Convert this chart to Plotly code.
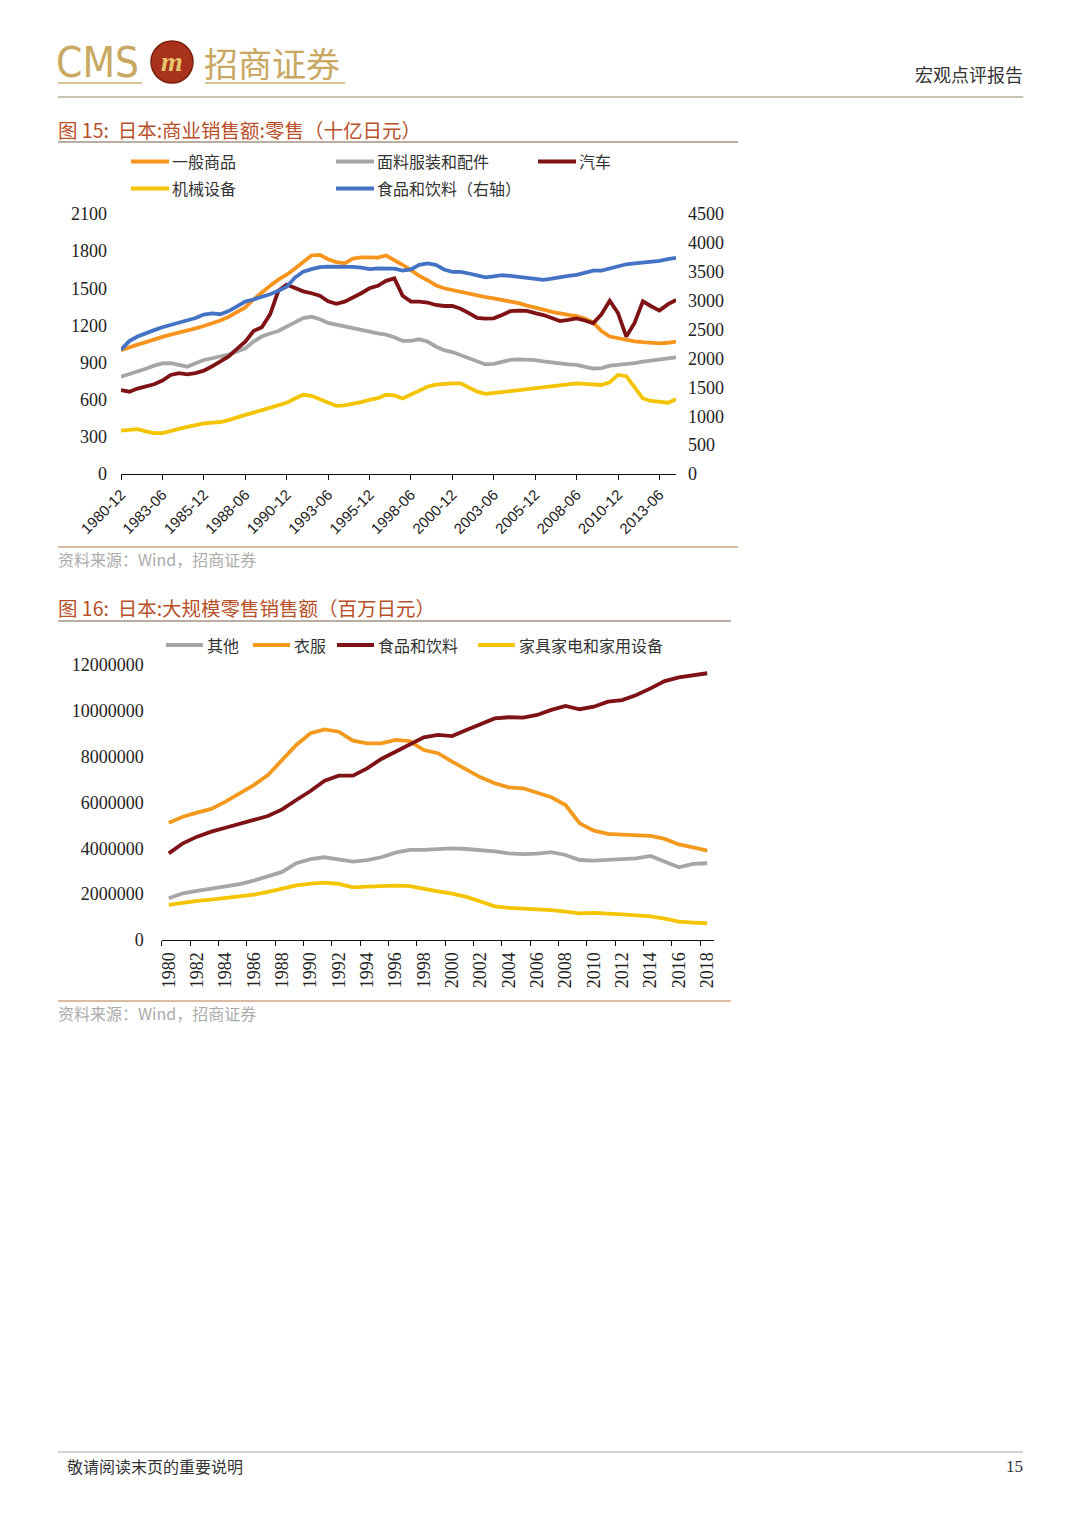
import plotly.graph_objects as go

# page is 1080x1527; the html body keeps an 8px margin, so the figure is 8px smaller on each side
PAGE_OFF = 8
W, H = 1080 - 2 * PAGE_OFF, 1527 - 2 * PAGE_OFF


def px(x):
    return (x - PAGE_OFF) / W


def py(y):
    return 1 - (y - PAGE_OFF) / H


# ---------------- Chart 15 data (semi-annual reads, 十亿日元) ----------------
dates15 = []
_y, _m = 1980, 12
for _k in range(68):
    dates15.append(f"{_y}-{_m:02d}")
    _m += 6
    if _m > 12:
        _m -= 12
        _y += 1

general_goods = [1000, 1025, 1045, 1065, 1088, 1108, 1125, 1140, 1158, 1176,
                 1195, 1215, 1240, 1270, 1305, 1345, 1410, 1470, 1520, 1570,
                 1610, 1660, 1715, 1765, 1770, 1735, 1712, 1702, 1740, 1750,
                 1750, 1748, 1765, 1730, 1690, 1647, 1600, 1565, 1525, 1500,
                 1486, 1470, 1452, 1440, 1428, 1419, 1408, 1395, 1380, 1360,
                 1346, 1328, 1310, 1295, 1285, 1275, 1255, 1225, 1155, 1110,
                 1096, 1082, 1072, 1065, 1058, 1055, 1060, 1070]
textiles = [786, 805, 826, 850, 875, 894, 895, 880, 867, 895,
            921, 935, 948, 965, 990, 1015, 1070, 1110, 1135, 1155,
            1190, 1225, 1260, 1270, 1250, 1220, 1205, 1195, 1180, 1165,
            1150, 1135, 1125, 1105, 1075, 1075, 1088, 1070, 1030, 1000,
            985, 960, 930, 905, 885, 890, 905, 922, 926, 926,
            920, 910, 900, 890, 885, 882, 870, 852, 855, 875,
            882, 886, 895, 907, 915, 922, 935, 942]
autos = [678, 665, 690, 710, 725, 755, 800, 815, 805, 815,
         835, 870, 907, 950, 1010, 1069, 1155, 1185, 1290, 1480,
         1530, 1505, 1475, 1460, 1440, 1395, 1375, 1392, 1425, 1460,
         1500, 1520, 1560, 1580, 1440, 1392, 1392, 1385, 1365, 1357,
         1357, 1335, 1300, 1260, 1255, 1257, 1285, 1315, 1320, 1318,
         1300, 1284, 1260, 1235, 1245, 1257, 1240, 1218, 1290, 1400,
         1300, 1110, 1220, 1395, 1355, 1320, 1370, 1405]
machinery = [350, 355, 362, 345, 330, 330, 350, 365, 380, 395,
             408, 415, 420, 435, 460, 478, 495, 515, 535, 555,
             575, 610, 640, 632, 605, 575, 550, 555, 565, 580,
             598, 612, 640, 635, 610, 640, 670, 705, 722, 728,
             732, 732, 700, 665, 648, 652, 662, 670, 678, 684,
             695, 705, 712, 718, 725, 732, 728, 722, 719, 740,
             800, 790, 700, 610, 590, 582, 576, 603]
food_bev = [2150, 2300, 2380, 2440, 2490, 2540, 2580, 2610, 2650, 2700,
            2760, 2780, 2765, 2820, 2900, 2985, 3020, 3060, 3110, 3170,
            3240, 3400, 3500, 3545, 3580, 3590, 3590, 3590, 3585, 3570,
            3545, 3560, 3560, 3555, 3520, 3540, 3620, 3646, 3620, 3540,
            3500, 3500, 3470, 3430, 3405, 3420, 3440, 3430, 3410, 3385,
            3365, 3360, 3380, 3410, 3430, 3445, 3490, 3520, 3520, 3560,
            3600, 3630, 3645, 3658, 3670, 3690, 3720, 3740]

names15 = ["一般商品", "面料服装和配件", "汽车", "机械设备", "食品和饮料（右轴）"]
colors15 = ["#F7941D", "#A6A6A6", "#7E1215", "#F5C400", "#4472C4"]
ticks15 = dates15[0::5]
yticks15_left = [0, 300, 600, 900, 1200, 1500, 1800, 2100]
yticks15_right = [0, 500, 1000, 1500, 2000, 2500, 3000, 3500, 4000, 4500]

# ---------------- Chart 16 data (annual, 百万日元) ----------------
years16 = list(range(1980, 2019))
other = [1820000, 2040000, 2140000, 2230000, 2330000, 2440000, 2590000, 2790000, 2970000, 3350000,
         3530000, 3610000, 3530000, 3420000, 3490000, 3610000, 3810000, 3930000, 3930000, 3960000,
         4000000, 3970000, 3930000, 3870000, 3780000, 3750000, 3770000, 3830000, 3710000, 3490000,
         3460000, 3480000, 3510000, 3560000, 3670000, 3420000, 3170000, 3320000, 3350000]
clothing = [5120000, 5380000, 5560000, 5720000, 6040000, 6400000, 6760000, 7200000, 7850000, 8510000,
            9020000, 9190000, 9090000, 8700000, 8580000, 8580000, 8730000, 8680000, 8290000, 8150000,
            7780000, 7420000, 7100000, 6840000, 6660000, 6620000, 6430000, 6230000, 5890000, 5090000,
            4770000, 4630000, 4600000, 4550000, 4540000, 4410000, 4170000, 4040000, 3900000]
food16 = [3780000, 4220000, 4510000, 4730000, 4900000, 5050000, 5240000, 5410000, 5700000, 6110000,
          6500000, 6950000, 7170000, 7170000, 7490000, 7900000, 8220000, 8550000, 8840000, 8950000,
          8900000, 9160000, 9430000, 9670000, 9720000, 9700000, 9820000, 10040000, 10210000, 10070000,
          10180000, 10400000, 10470000, 10690000, 10980000, 11300000, 11460000, 11530000, 11640000]
furniture = [1530000, 1630000, 1710000, 1760000, 1820000, 1890000, 1980000, 2100000, 2250000, 2380000,
             2460000, 2500000, 2450000, 2300000, 2330000, 2360000, 2370000, 2350000, 2220000, 2120000,
             2020000, 1880000, 1680000, 1470000, 1400000, 1370000, 1350000, 1300000, 1240000, 1160000,
             1180000, 1170000, 1120000, 1070000, 1030000, 930000, 800000, 760000, 730000]

names16 = ["其他", "衣服", "食品和饮料", "家具家电和家用设备"]
colors16 = ["#A6A6A6", "#F39A1E", "#7E1215", "#F5C400"]
yticks16 = [0, 2000000, 4000000, 6000000, 8000000, 10000000, 12000000]

CJK = "Noto Sans CJK SC"
SERIF = "Liberation Serif"
SANS = "Liberation Sans"

fig = go.Figure()

series15 = [general_goods, textiles, autos, machinery, food_bev]
for i, (nm, vals, col) in enumerate(zip(names15, series15, colors15)):
    fig.add_trace(go.Scatter(
        x=dates15, y=vals, name=nm, mode="lines",
        line=dict(color=col, width=3.8),
        xaxis="x", yaxis="y2" if i == 4 else "y", showlegend=False))

series16 = [other, clothing, food16, furniture]
for nm, vals, col in zip(names16, series16, colors16):
    fig.add_trace(go.Scatter(
        x=years16, y=vals, name=nm, mode="lines",
        line=dict(color=col, width=3.8),
        xaxis="x2", yaxis="y3", showlegend=False))

tickfont_serif = dict(family=SERIF, size=18, color="#222222")

fig.update_layout(
    template="none",
    width=W, height=H, margin=dict(l=0, r=0, t=0, b=0, pad=0, autoexpand=False),
    autosize=False,
    paper_bgcolor="white", plot_bgcolor="white",
    showlegend=False,
    xaxis=dict(domain=[px(121), px(676)], type="category", range=[0, 67], anchor="y",
               automargin=False,
               showline=True, linecolor="#111111", linewidth=1.3,
               ticks="outside", ticklen=5, tickcolor="#111111", tickwidth=1.2,
               tickmode="array", tickvals=ticks15, ticktext=ticks15, tickangle=-45,
               tickfont=dict(family=SANS, size=15, color="#222222"),
               showgrid=False, zeroline=False),
    yaxis=dict(domain=[py(474), py(214)], range=[0, 2100], anchor="x",
               automargin=False,
               tickmode="array", tickvals=yticks15_left,
               showline=False, showgrid=False, zeroline=False, ticks="",
               tickfont=tickfont_serif, ticklabelstandoff=13),
    yaxis2=dict(range=[0, 4500], overlaying="y", side="right", anchor="x",
                automargin=False,
                tickmode="array", tickvals=yticks15_right,
                showline=False, showgrid=False, zeroline=False, ticks="",
                tickfont=tickfont_serif, ticklabelstandoff=11),
    xaxis2=dict(domain=[px(161.7), px(714.3)], range=[1979.5, 2018.5], anchor="y3",
                automargin=False,
                showline=True, linecolor="#111111", linewidth=1.3,
                tickmode="array", tickvals=years16[0::2], ticktext=[str(v) for v in years16[0::2]],
                ticks="", tickangle=-90, tickfont=tickfont_serif, ticklabelstandoff=4,
                minor=dict(ticks="outside", tickmode="linear", tick0=1979.5, dtick=2,
                           ticklen=5, tickcolor="#111111", tickwidth=1.2, showgrid=False),
                showgrid=False, zeroline=False),
    yaxis3=dict(domain=[py(940), py(665)], range=[0, 12000000], anchor="x2",
                automargin=False,
                tickmode="array", tickvals=yticks16, tickformat="d",
                showline=False, showgrid=False, zeroline=False, ticks="",
                tickfont=tickfont_serif, ticklabelstandoff=17),
)

shapes = []
annotations = []


def hline(x0, x1, y, color, width):
    shapes.append(dict(type="line", xref="paper", yref="paper",
                       x0=px(x0), x1=px(x1), y0=py(y), y1=py(y),
                       line=dict(color=color, width=width)))


def text(x, y, s, size, color, family=CJK, anchor="left", bold=False):
    annotations.append(dict(xref="paper", yref="paper", x=px(x), y=py(y), text=(f"<b>{s}</b>" if bold else s),
                            showarrow=False, xanchor=anchor, yanchor="middle", borderpad=0,
                            font=dict(family=family, size=size, color=color)))


# ---------------- Header ----------------
text(55, 62, "CMS", 42, "#C8A862", family="DejaVu Sans Condensed, Liberation Sans Narrow, Liberation Sans")
shapes.append(dict(type="circle", xref="paper", yref="paper",
                   x0=px(151), x1=px(193), y0=py(83), y1=py(41),
                   fillcolor="#A9321C", line=dict(color="#7C1F0E", width=1.5)))
text(172, 61, "<i>m</i>", 28, "#E7C56A", family="Liberation Serif", anchor="center", bold=True)
text(203, 62, "招商证券", 34, "#C8A862")
hline(58, 142, 83, "#D8C58F", 2)
hline(205, 345, 83, "#D8C58F", 2)
text(1024, 74, "宏观点评报告", 18, "#333333", anchor="right")
hline(58, 1023, 97, "#B8AC9C", 1.5)

# ---------------- Chart 15 frame ----------------
text(57, 129, "图 15:  日本:商业销售额:零售（十亿日元）", 19.5, "#B8502A")
hline(58, 738, 142, "#A39383", 1.5)
leg15 = [(131, 161.5), (336, 161.5), (538, 161.5), (131, 188.5), (336, 188.5)]
for (lx, ly), nm, col in zip(leg15, names15, colors15):
    hline(lx, lx + 38, ly, col, 4)
    text(lx + 40, ly, nm, 16, "#333333")
hline(58, 738, 547, "#CFA684", 1.5)
text(57, 559, "资料来源：Wind，招商证券", 16, "#ABABAB")

# ---------------- Chart 16 frame ----------------
text(57, 607, "图 16:  日本:大规模零售销售额（百万日元）", 19.5, "#B8502A")
hline(58, 731, 621, "#A39383", 1.5)
leg16 = [(166, 645), (253, 645), (337, 645), (478, 645)]
for (lx, ly), nm, col in zip(leg16, names16, colors16):
    hline(lx, lx + 37, ly, col, 4)
    text(lx + 40, ly, nm, 16, "#333333")
hline(58, 731, 1001, "#CFA684", 1.5)
text(57, 1013, "资料来源：Wind，招商证券", 16, "#ABABAB")

# ---------------- Footer ----------------
hline(58, 1023, 1452, "#A8A8A8", 1.2)
text(66, 1466, "敬请阅读末页的重要说明", 16, "#333333")
text(1024, 1466, "15", 17, "#333333", family=SERIF, anchor="right")

fig.update_layout(shapes=shapes, annotations=annotations)

fig.write_html("out.html")
